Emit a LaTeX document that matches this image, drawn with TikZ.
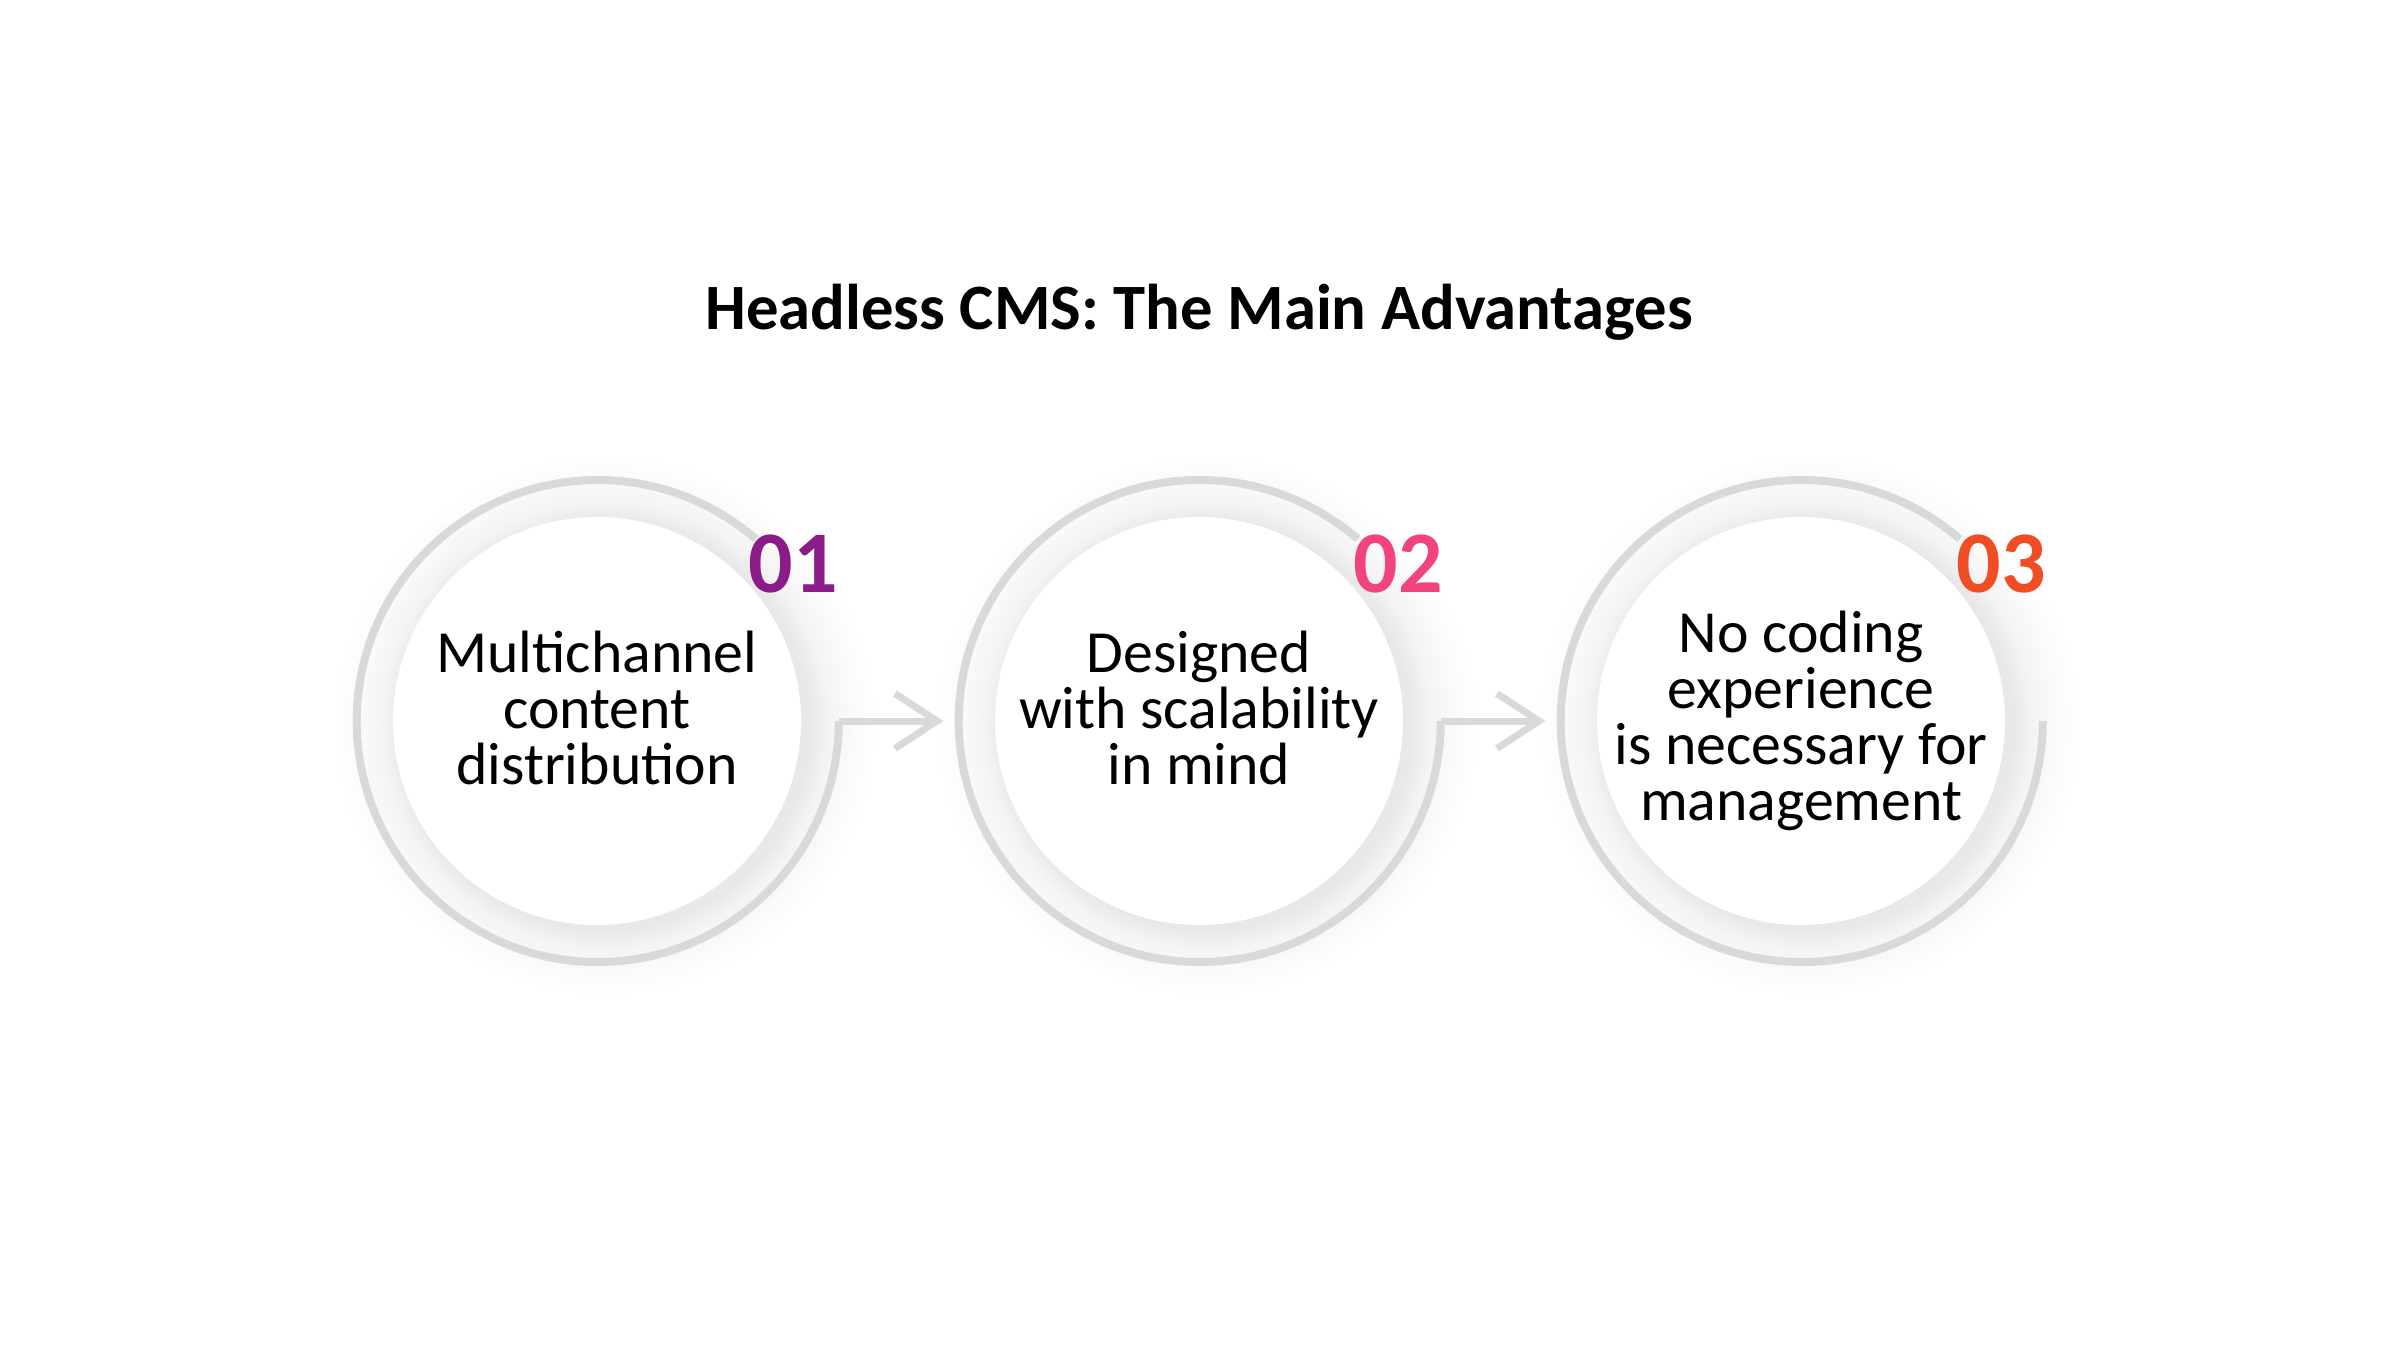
\documentclass[tikz,border=0pt]{standalone}
\usepackage{fontspec}
\setmainfont{Carlito}
\usetikzlibrary{arrows.meta, positioning}

\definecolor{ringgray}{HTML}{D9D9D9}
\definecolor{numpurple}{HTML}{8C1B8A}
\definecolor{numpink}{HTML}{F2447C}
\definecolor{numorange}{HTML}{EF4E24}
\pgfdeclareradialshading{softglow}{\pgfpoint{0bp}{0bp}}{color(0bp)=(black!9); color(18.8bp)=(black!9); color(20.5bp)=(black!4.5); color(23bp)=(black!1.5); color(25bp)=(white); color(50bp)=(white)}

\begin{document}
\begin{tikzpicture}[
    ring/.style={draw=ringgray, line width=0.08cm},
    flow/.style={draw=ringgray, line width=0.07cm, -{Straight Barb[length=0.42cm, width=0.55cm]}, shorten >=0.14cm},
    stepnode/.style={circle, minimum size=4.82cm, inner sep=0pt},
    steptext/.style={align=center, font=\fontsize{17}{15.9}\selectfont},
    stepnum/.style={font=\fontsize{25}{27}\selectfont\bfseries}
  ]
  % Page and background
  \fill[white] (0,0) rectangle (24,13.5);
  \useasboundingbox (0,0) rectangle (24,13.5);

  % Title
  \node[font=\fontsize{18.4}{21}\selectfont\bfseries] (title) at (11.99,10.38) {Headless CMS: The Main Advantages};

  % Step circles
  \node[stepnode] (c1) at (5.97,6.29) {};
  \node[stepnode] (c2) at (11.99,6.29) {};
  \node[stepnode] (c3) at (18.01,6.29) {};

  % Shadows and white discs
  \shade[shading=softglow] ([shift={(0.08,-0.04)}]c1.center) circle (2.72);
  \shade[shading=softglow] ([shift={(0.08,-0.04)}]c2.center) circle (2.72);
  \shade[shading=softglow] ([shift={(0.08,-0.04)}]c3.center) circle (2.72);
  \fill[white] (c1.center) circle (2.04);
  \fill[white] (c2.center) circle (2.04);
  \fill[white] (c3.center) circle (2.04);

  % Open rings
  \draw[ring] (c1.east) arc[start angle=0, end angle=-311, radius=2.41];
  \draw[ring] (c2.east) arc[start angle=0, end angle=-311, radius=2.41];
  \draw[ring] (c3.east) arc[start angle=0, end angle=-311, radius=2.41];

  % Arrows between the steps
  \draw[flow] (c1.east) -- (c2.west);
  \draw[flow] (c2.east) -- (c3.west);

  % Step numbers
  \node[stepnum, text=numpurple] (n1) at ([shift={(1.96,1.57)}]c1.center) {01};
  \node[stepnum, text=numpink] (n2) at ([shift={(1.99,1.57)}]c2.center) {02};
  \node[stepnum, text=numorange] (n3) at ([shift={(2.0,1.57)}]c3.center) {03};

  % Step texts
  \node[steptext] (t1) at ([yshift=0.13cm]c1.center) {Multichannel\\content\\distribution};
  \node[steptext] (t2) at ([yshift=0.13cm]c2.center) {Designed\\with scalability\\in mind};
  \node[steptext] (t3) at (c3.center) {No coding\\experience\\is necessary for\\management};
\end{tikzpicture}
\end{document}
